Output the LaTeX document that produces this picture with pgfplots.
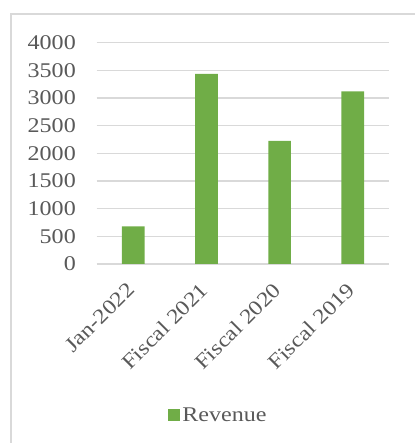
\documentclass[border=0pt]{standalone}
\usepackage{fontspec}
\setmainfont[FakeStretch=1.15]{Liberation Serif}
\usepackage{pgfplots}
\pgfplotsset{compat=1.18}
\definecolor{bargreen}{HTML}{70AD47}
\definecolor{gridgray}{HTML}{D9D9D9}
\definecolor{txtgray}{HTML}{595959}
\begin{document}
\begin{tikzpicture}[x=1bp,y=1bp]
\useasboundingbox (-96.7,-179) rectangle (317.3,264);
\draw[gridgray, line width=1.4bp] (-85.7,-220) rectangle (360,250);
\begin{axis}[
  at={(0,0)}, anchor=south west,
  scale only axis, width=292.7bp, height=221.3bp,
  xmin=-0.5, xmax=3.5, ymin=0, ymax=4000,
  ytick={0,500,...,4000},
  xtick={0,1,2,3},
  xticklabels={Jan-2022, Fiscal 2021, Fiscal 2020, Fiscal 2019},
  axis line style={draw=none},
  major tick length=0pt,
  ymajorgrids, grid style={gridgray, line width=1.5bp},
  ybar, bar width=22.7bp,
  tick label style={font=\fontsize{21}{25}\selectfont, text=txtgray},
  /pgf/number format/assume math mode=true,
  /pgf/number format/1000 sep={},
  yticklabel style={anchor=east, inner sep=0pt, xshift=-20.7bp},
  xticklabel style={anchor=north east, inner sep=0pt, xshift=-7.5bp, yshift=-17bp, rotate=45},
  legend style={at={(0.416,-0.682)}, anchor=center, draw=none, fill=none,
    font=\fontsize{21}{25}\selectfont, text=txtgray, inner sep=0pt},
  legend image code/.code={\fill[bargreen] (0bp,-6bp) rectangle (12bp,6bp);},
]
\addplot[fill=bargreen, draw=none] coordinates {(0,680) (1,3435) (2,2225) (3,3120)};
\addlegendentry{Revenue}
\end{axis}
\end{tikzpicture}
\end{document}
